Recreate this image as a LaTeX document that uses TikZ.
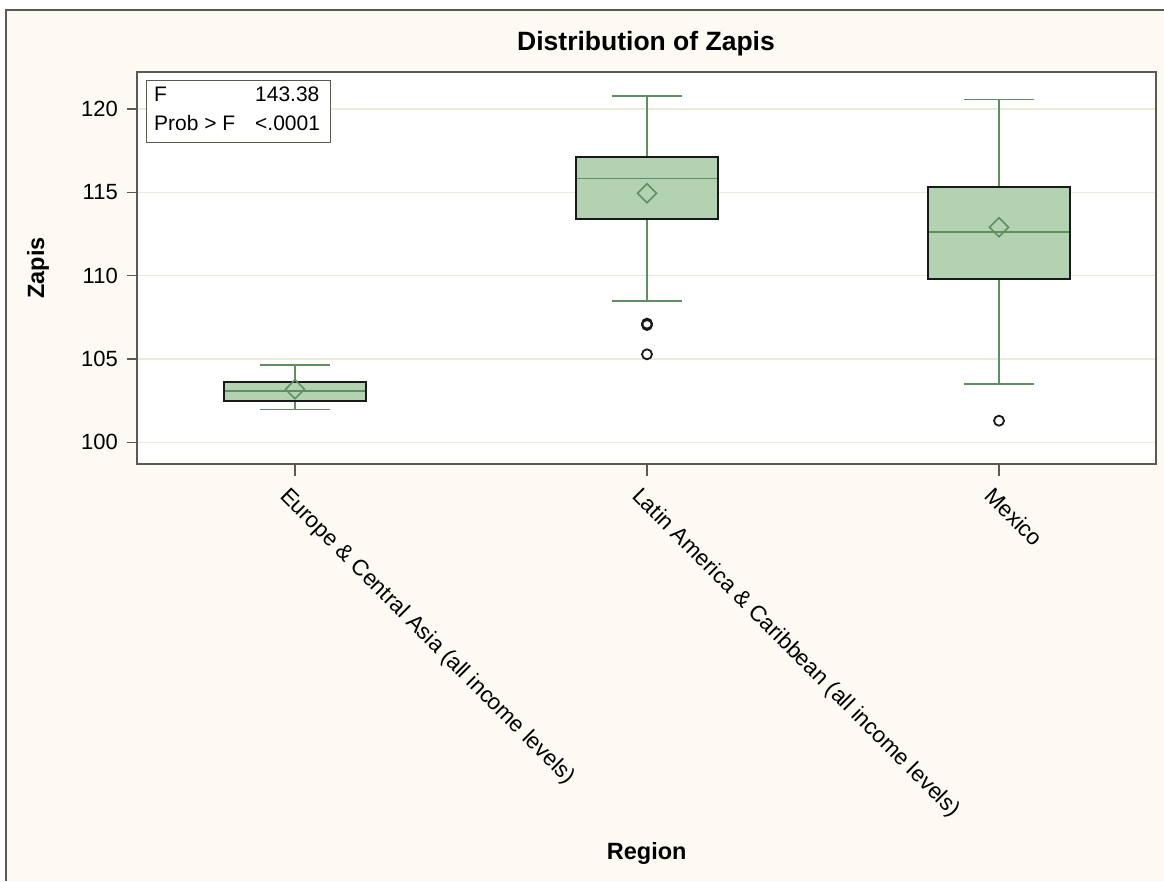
\documentclass[tikz,border=0pt]{standalone}
\usepackage{fontspec}
\setmainfont{Liberation Sans}
\definecolor{bgc}{HTML}{FCFAF2}
\definecolor{gridc}{HTML}{ECEADA}
\definecolor{fillg}{HTML}{B3D2B2}
\definecolor{lineg}{HTML}{5F8F5F}
\definecolor{framec}{HTML}{5C5950}
\newcommand\bxplot[7]{%
  \draw[whisk] (#1,#2) -- (#1,#3);
  \draw[whisk] (#1,#6) -- (#1,#7);
  \draw[whisk] ({#1-35},#2) -- ({#1+35},#2);
  \draw[whisk] ({#1-35},#7) -- ({#1+35},#7);
  \filldraw[boxs] ({#1-71},#3) rectangle ({#1+71},#6);
  \draw[whisk] ({#1-70},#4) -- ({#1+70},#4);
  \draw[whisk] (#1,{#5-9.5}) -- ({#1+9.5},#5) -- (#1,{#5+9.5}) -- ({#1-9.5},#5) -- cycle;
}
\begin{document}
\begin{tikzpicture}[x=1pt,y=-1pt,
  whisk/.style={lineg, line width=1.6},
  boxs/.style={fill=fillg, draw=black!90, line width=1.8},
  outl/.style={draw=black!90, line width=1.8},
  gridl/.style={gridc, line width=1.4},
  tickl/.style={framec, line width=1.4},
  ticklab/.style={font=\fontsize{22}{26}\selectfont, inner sep=0pt},
  statlab/.style={font=\fontsize{21}{25}\selectfont, inner sep=0pt},
  catlab/.style={font=\fontsize{22.4}{26}\selectfont, inner sep=0pt, rotate=-45, anchor=base west},
  axlab/.style={font=\fontsize{23.5}{27}\selectfont\bfseries, inner sep=0pt}]
\useasboundingbox (0,0) rectangle (1164,881);
\fill[white] (0,0) rectangle (1164,881);
\fill[bgc] (6,10) rectangle (1164,881);
\draw[framec, line width=2] (6,881) -- (6,10) -- (1164,10);
% plot area
\fill[white] (137,72) rectangle (1156,464);
\foreach \yy in {442.3,359.0,275.6,192.3,109.0}{
  \draw[gridl] (137,\yy) -- (1156,\yy);
  \draw[tickl] (127,\yy) -- (137,\yy);
}
\node[ticklab, anchor=east] (t100) at (118,442.3) {100};
\node[ticklab, anchor=east] (t105) at (118,359.0) {105};
\node[ticklab, anchor=east] (t110) at (118,275.6) {110};
\node[ticklab, anchor=east] (t115) at (118,192.3) {115};
\node[ticklab, anchor=east] (t120) at (118,109.0) {120};
\foreach \xx in {295,647,999}{
  \draw[tickl] (\xx,464) -- (\xx,476);
}
% boxes
\bxplot{295}{365}{381.7}{391}{389.3}{400.7}{409.3}
\bxplot{647}{95.7}{156.7}{178.3}{193.3}{219}{301}
\bxplot{999}{99.3}{187.3}{231.7}{227.3}{279.3}{383.7}
% outliers
\draw[outl] (647,323.6) circle (5);
\draw[outl] (647,325.0) circle (5);
\draw[outl] (647,354.3) circle (5);
\draw[outl] (999,420.7) circle (5);
\draw[framec, line width=1.6] (137,72) rectangle (1156,464);
% stats box
\draw[framec, line width=1.3, fill=white] (146.7,80.7) rectangle (330.7,142.3);
\node[statlab, anchor=base west] (sF) at (154,101.7) {F};
\node[statlab, anchor=base west] (sFv) at (255,101.7) {143.38};
\node[statlab, anchor=base west] (sP) at (154,130.7) {Prob > F};
\node[statlab, anchor=base west] (sPv) at (255,130.7) {<.0001};
% titles
\node[axlab, font=\fontsize{26.5}{30}\selectfont\bfseries] (title) at (646,44) {Distribution of Zapis};
\node[axlab, rotate=90] (ylab) at (38,268) {Zapis};
\node[axlab] (xlab) at (646.7,853) {Region};
% category labels
\node[catlab] (c1) at (279,497) {Europe \& Central Asia (all income levels)};
\node[catlab] (c2) at (631,497) {Latin America \& Caribbean (all income levels)};
\node[catlab] (c3) at (983,497) {Mexico};
\end{tikzpicture}
\end{document}
